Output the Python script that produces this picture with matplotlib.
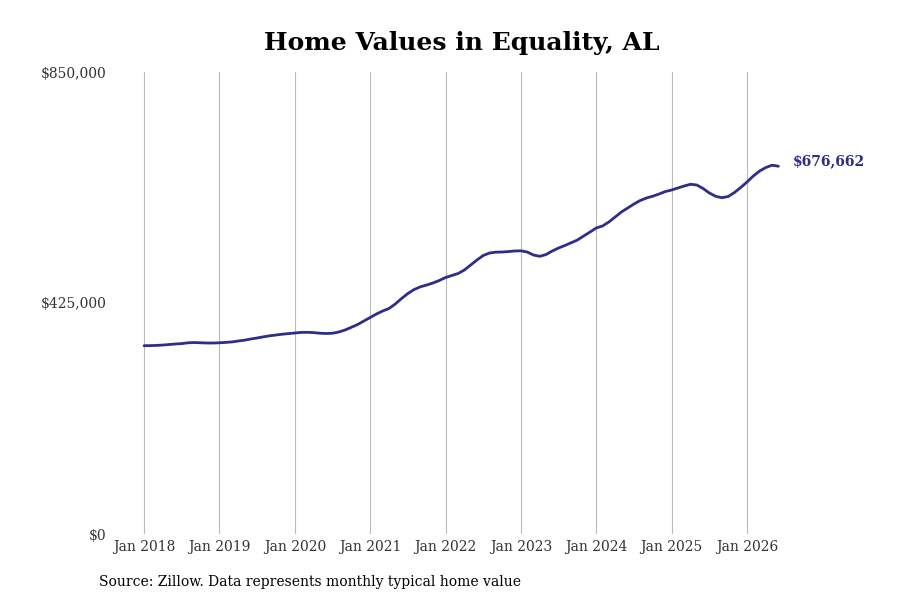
import matplotlib

matplotlib.use("Agg")
import matplotlib.pyplot as plt
from matplotlib.ticker import FuncFormatter

# monthly typical home value, Jan 2018 .. Jun 2026
home_values = [
    346400, 346600, 347000, 347700, 348600, 349600, 350300, 351800, 352300, 351800,
    351400, 351400, 351800, 352500, 353400, 355100, 356600, 358800, 360600, 362800,
    364600, 366100, 367600, 368700, 369800, 370900, 371100, 370500, 369400, 368900,
    369400, 371600, 375300, 380300, 385400, 391900, 398300, 404800, 410300, 414900,
    423200, 433300, 442500, 449800, 454800, 458100, 461800, 466400, 471900, 475600,
    479300, 485700, 494900, 504100, 512400, 517000, 518500, 518800, 519600, 520700,
    521000, 518800, 513300, 510900, 514200, 520700, 526200, 530800, 535800, 540900,
    548300, 555600, 563000, 566700, 574000, 583200, 592400, 599800, 607100, 613600,
    618200, 621500, 625500, 630100, 632900, 636600, 640300, 643400, 642100, 635700,
    627400, 621300, 618700, 620900, 628300, 637500, 647600, 658600, 667800, 674300,
    678500, 676662,
]
months = list(range(len(home_values)))

tick_months = [0, 12, 24, 36, 48, 60, 72, 84, 96]
tick_labels = ["Jan 2018", "Jan 2019", "Jan 2020", "Jan 2021", "Jan 2022",
               "Jan 2023", "Jan 2024", "Jan 2025", "Jan 2026"]
y_ticks = [0, 425000, 850000]

title = "Home Values in Equality, AL"
source = "Source: Zillow. Data represents monthly typical home value"
line_color = "#2e2d88"

plt.rcParams["font.family"] = ["DejaVu Serif"]

fig = plt.figure(figsize=(9, 6), dpi=100)
fig.patch.set_facecolor("white")
ax = fig.add_axes([0.128, 0.11, 0.739, 0.77])

ax.plot(months, home_values, color=line_color, linewidth=2.0, solid_capstyle="round")

ax.set_ylim(0, 850000)
ax.set_xlim(-4.6, 101.3)
ax.set_yticks(y_ticks)
ax.yaxis.set_major_formatter(FuncFormatter(lambda v, _p: f"${v:,.0f}"))
ax.set_xticks(tick_months)
ax.set_xticklabels(tick_labels)

ax.tick_params(axis="both", length=0, labelsize=10, colors="#333333")
ax.tick_params(axis="y", pad=6)
ax.tick_params(axis="x", pad=4)
ax.grid(axis="x", color="#bbbbbb", linewidth=0.8)
ax.grid(axis="y", visible=False)
for spine in ax.spines.values():
    spine.set_visible(False)

ax.annotate(
    f"${home_values[-1]:,}",
    xy=(months[-1], home_values[-1]),
    xytext=(10, 3.5),
    textcoords="offset points",
    color=line_color,
    fontsize=10,
    fontweight="bold",
    va="center",
    ha="left",
    annotation_clip=False,
)

fig.text(0.513, 0.928, title, ha="center", va="center", fontsize=18, fontweight="bold")
fig.text(0.11, 0.03, source, ha="left", va="center", fontsize=10, color="black")

fig.savefig("out.png", dpi=100)
plt.close(fig)
